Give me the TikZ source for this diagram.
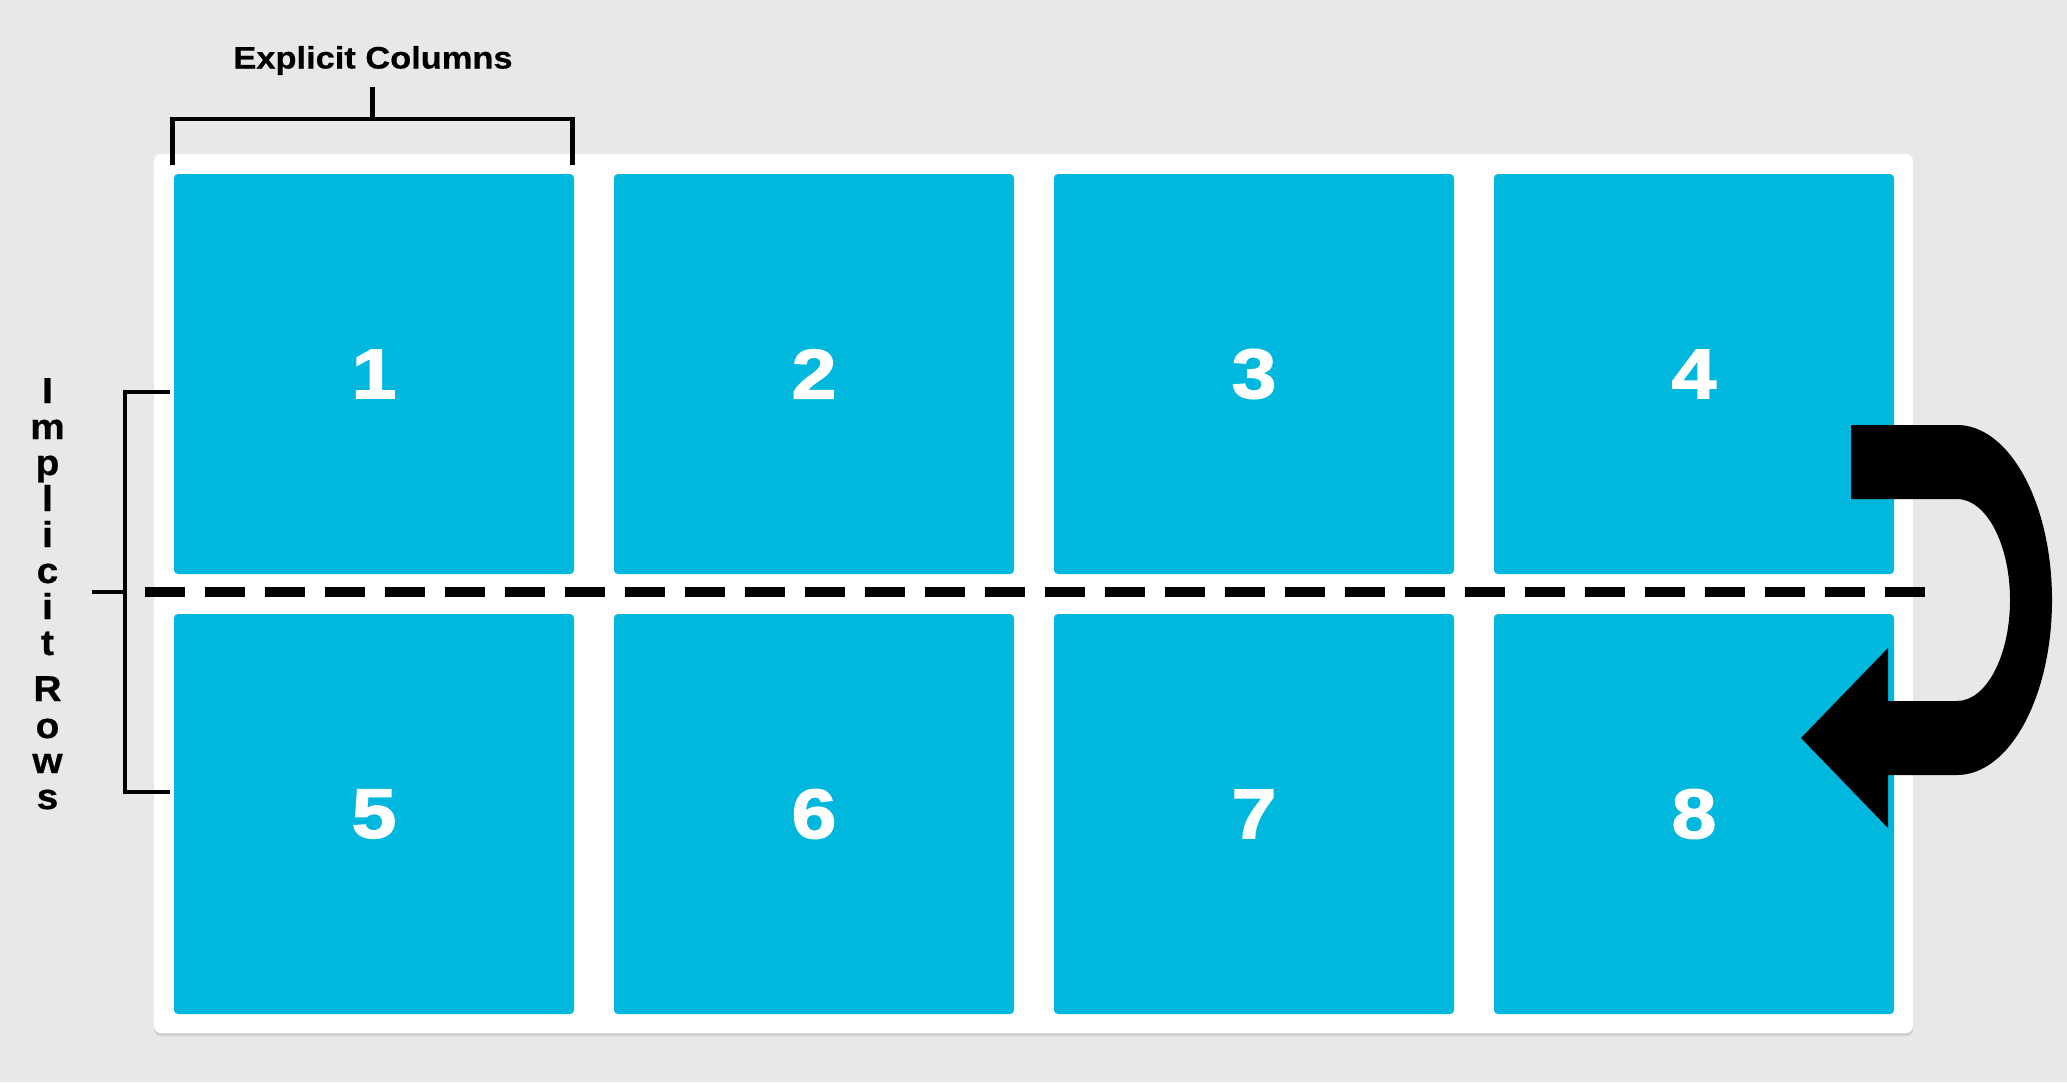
\documentclass[tikz,border=0pt]{standalone}
\usepackage{fontspec}
\setmainfont{Liberation Sans}
\newfontfamily\labelfont[FakeStretch=1.08,FakeBold=0.6]{Liberation Sans}
\newfontfamily\titlefont[FakeStretch=1.11,FakeBold=0.6]{Liberation Sans}
\newfontfamily\digitfont[FakeStretch=1.15,FakeBold=2]{Liberation Sans}
\definecolor{bg}{HTML}{E7E9E8}
\definecolor{cellblue}{HTML}{00B8DE}
\definecolor{shadowgray}{HTML}{CFCFCF}
\tikzset{
  cell/.style={fill=cellblue, rounded corners=4pt, minimum width=400pt, minimum height=400pt,
    inner sep=0pt, text=white, font=\digitfont\bfseries\fontsize{70}{70}\selectfont},
  bracket/.style={draw=black, line width=4.5pt},
  vlet/.style={anchor=base, inner sep=0pt, font=\labelfont\bfseries\fontsize{36}{36}\selectfont},
  title/.style={anchor=base, inner sep=0pt, font=\titlefont\bfseries\fontsize{31}{32}\selectfont},
  sep/.style={draw=black, line width=10pt, dash pattern=on 40pt off 20pt},
  bigarrow/.style={fill=black}
}
\begin{document}
\begin{tikzpicture}[x=1pt,y=-1pt]
\useasboundingbox (0,0) rectangle (2067,1082);
\fill[bg] (0,0) rectangle (2067,1082);
% container
\fill[shadowgray, rounded corners=7pt] (154,157) rectangle (1913,1036);
\node[fill=white, rounded corners=7pt, minimum width=1759pt, minimum height=879pt, inner sep=0pt] (box) at (1033.5,593.5) {};
% cells
\node[cell] (c1) at (374,374) {1};
\node[cell] (c2) at (814,374) {2};
\node[cell] (c3) at (1254,374) {3};
\node[cell] (c4) at (1694,374) {4};
\node[cell] (c5) at (374,814) {5};
\node[cell] (c6) at (814,814) {6};
\node[cell] (c7) at (1254,814) {7};
\node[cell] (c8) at (1694,814) {8};
% dashed row separator
\coordinate (dl) at (145,592);
\coordinate (dr) at (1925,592);
\draw[sep] (dl) -- (dr);
% explicit columns bracket
\node[title] (ectext) at (373,68.5) {Explicit Columns};
\coordinate (tbl) at (172.5,165);
\coordinate (tbr) at (572.5,165);
\coordinate (tbm) at (372.5,119);
\coordinate (tbt) at (372.5,87);
\draw[bracket] (tbl) -- (tbl |- tbm) -- (tbr |- tbm) -- (tbr);
\draw[bracket] (tbm) -- (tbt);
% implicit rows bracket
\coordinate (lbt) at (170,392);
\coordinate (lbb) at (170,792);
\coordinate (lbm) at (125,592);
\coordinate (lbx) at (92,592);
\draw[bracket] (lbt) -- (lbm |- lbt) -- (lbm |- lbb) -- (lbb);
\draw[bracket] (lbm) -- (lbx);
\node[vlet] (r1) at (47.5,403) {I};
\node[vlet] (r2) at (47.5,439) {m};
\node[vlet] (r3) at (47.5,475) {p};
\node[vlet] (r4) at (47.5,511) {l};
\node[vlet] (r5) at (47.5,547) {i};
\node[vlet] (r6) at (47.5,583) {c};
\node[vlet] (r7) at (47.5,619) {i};
\node[vlet] (r8) at (47.5,655) {t};
\node[vlet] (r9) at (47.5,701) {R};
\node[vlet] (r10) at (47.5,738) {o};
\node[vlet] (r11) at (47.5,773) {w};
\node[vlet] (r12) at (47.5,809) {s};
% wrap arrow
\fill[bigarrow] (1851,425) -- (1957,425)
  .. controls (2009.5,425) and (2052,503.3) .. (2052,600)
  .. controls (2052,696.7) and (2009.5,775) .. (1957,775)
  -- (1888,775) -- (1888,828) -- (1801,738) -- (1888,648) -- (1888,701) -- (1957,701)
  .. controls (1986.3,701) and (2010,655.8) .. (2010,600)
  .. controls (2010,544.2) and (1986.3,499) .. (1957,499)
  -- (1851,499) -- cycle;
\end{tikzpicture}
\end{document}
